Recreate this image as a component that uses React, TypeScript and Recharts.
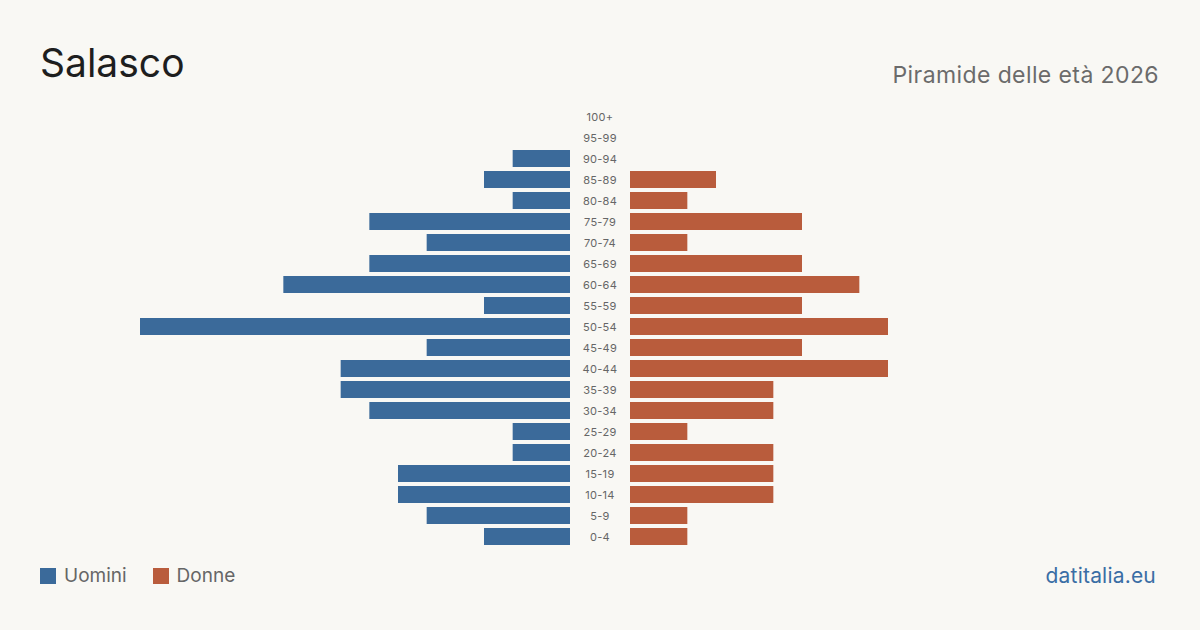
import { BarChart, Bar, XAxis, YAxis } from 'recharts';

const AGE_GROUPS = [
  '100+', '95-99', '90-94', '85-89', '80-84', '75-79', '70-74', '65-69', '60-64', '55-59', '50-54',
  '45-49', '40-44', '35-39', '30-34', '25-29', '20-24', '15-19', '10-14', '5-9', '0-4',
];
const MEN = [0, 0, 2, 3, 2, 7, 5, 7, 10, 3, 15, 5, 8, 8, 7, 2, 2, 6, 6, 5, 3];
const WOMEN = [0, 0, 0, 3, 2, 6, 2, 6, 8, 6, 9, 6, 9, 5, 5, 2, 5, 5, 5, 2, 2];

const BLUE = '#3b6a9a';
const ORANGE = '#b95c3c';
const BG = '#f9f8f4';
const FONT = 'Inter, "Noto Sans", sans-serif';

const data = AGE_GROUPS.map((age, i) => ({ age, men: MEN[i], women: WOMEN[i] }));

function AgeTick({ y, payload }: { y?: number; payload?: { value: string } }) {
  return (
    <text
      x={30}
      y={y}
      textAnchor="middle"
      dominantBaseline="central"
      fill="#666"
      fontSize={11}
      letterSpacing={0.3}
      fontFamily={FONT}
    >
      {payload?.value}
    </text>
  );
}

export default function App() {
  return (
    <div
      style={{
        position: 'absolute',
        top: 0,
        left: 0,
        width: 1200,
        height: 630,
        background: BG,
        fontFamily: FONT,
        overflow: 'hidden',
      }}
    >
      <div style={{ position: 'absolute', left: 40, top: 43, fontSize: 39, color: '#1e1e1e', lineHeight: 1 }}>Salasco</div>
      <div
        style={{
          position: 'absolute',
          right: 41,
          top: 64,
          fontSize: 23,
          letterSpacing: 0.4,
          color: '#6b6b6b',
          lineHeight: 1,
        }}
      >
        Piramide delle età 2026
      </div>

      {/* men, mirrored to the left */}
      <div style={{ position: 'absolute', left: 140, top: 106 }}>
        <BarChart width={430} height={441} data={data} layout="vertical" margin={{ top: 0, right: 0, bottom: 0, left: 0 }}>
          <XAxis type="number" domain={[0, 15]} reversed hide />
          <YAxis type="category" dataKey="age" hide />
          <Bar dataKey="men" fill={BLUE} barSize={17} isAnimationActive={false} />
        </BarChart>
      </div>

      {/* age labels + women */}
      <div style={{ position: 'absolute', left: 570, top: 106 }}>
        <BarChart width={490} height={441} data={data} layout="vertical" margin={{ top: 0, right: 0, bottom: 0, left: 0 }}>
          <XAxis type="number" domain={[0, 15]} hide />
          <YAxis
            type="category"
            dataKey="age"
            width={60}
            axisLine={false}
            tickLine={false}
            interval={0}
            tick={<AgeTick />}
          />
          <Bar dataKey="women" fill={ORANGE} barSize={17} isAnimationActive={false} />
        </BarChart>
      </div>

      <div
        style={{
          position: 'absolute',
          left: 40,
          top: 566,
          display: 'flex',
          alignItems: 'center',
          fontSize: 19,
          color: '#666',
          lineHeight: '20px',
        }}
      >
        <span style={{ width: 16, height: 16, background: BLUE, marginRight: 8 }} />
        <span style={{ marginRight: 26 }}>Uomini</span>
        <span style={{ width: 16, height: 16, background: ORANGE, marginRight: 8 }} />
        <span>Donne</span>
      </div>
      <div
        style={{
          position: 'absolute',
          right: 44,
          top: 565,
          fontSize: 21,
          letterSpacing: 0.2,
          color: '#3a6ea5',
          lineHeight: '22px',
        }}
      >
        datitalia.eu
      </div>
    </div>
  );
}
